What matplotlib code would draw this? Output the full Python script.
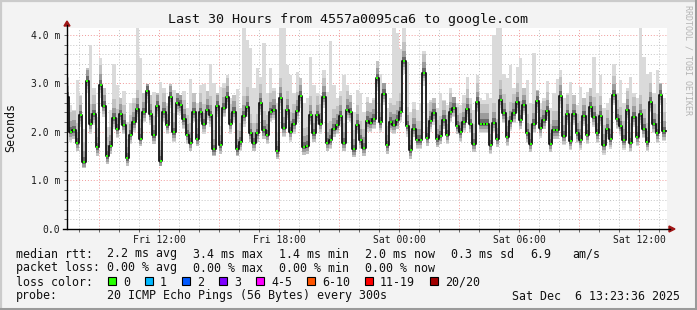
import numpy as np
import pandas as pd
import matplotlib
matplotlib.use('Agg')
import matplotlib.pyplot as plt
import matplotlib.dates as mdates
from matplotlib.ticker import MultipleLocator, FuncFormatter
from matplotlib.lines import Line2D
from matplotlib.patches import Polygon, Rectangle

W, H = 697, 310
MONO = 'DejaVu Sans Mono'

# median rtt, one value per 10 minutes (ms)
median_ms = [
    2.72, 2.00, 2.03, 1.78, 2.34, 1.39, 3.05, 2.17, 2.36, 1.68,
    2.97, 2.54, 1.50, 1.71, 2.28, 2.07, 2.36, 2.15, 1.46, 1.94,
    2.20, 2.47, 1.86, 2.40, 2.84, 2.36, 1.93, 2.54, 1.41, 2.40,
    2.14, 2.72, 1.99, 2.59, 2.55, 2.26, 1.94, 1.78, 2.40, 1.86,
    2.40, 2.17, 2.45, 2.34, 1.64, 2.54, 1.72, 2.50, 2.72, 2.17,
    2.41, 1.64, 1.79, 2.33, 2.52, 1.97, 1.78, 1.97, 2.59, 2.03,
    1.94, 2.40, 2.45, 1.60, 2.70, 2.08, 2.45, 2.00, 2.17, 2.43,
    2.74, 1.69, 1.71, 2.34, 1.97, 2.34, 2.17, 2.72, 1.78, 1.83,
    2.07, 2.14, 2.33, 1.78, 2.45, 2.40, 1.64, 2.15, 1.83, 1.67,
    2.22, 2.19, 2.26, 3.10, 2.20, 2.79, 1.72, 2.20, 2.15, 2.24,
    2.41, 3.45, 2.12, 1.62, 2.07, 1.83, 1.83, 3.21, 1.88, 2.22,
    2.38, 1.85, 1.92, 2.24, 1.94, 2.40, 2.50, 2.12, 1.99, 2.20,
    2.48, 2.17, 1.76, 2.61, 2.17, 2.17, 2.17, 1.74, 2.19, 1.86,
    2.66, 2.38, 1.90, 2.22, 2.38, 2.61, 2.24, 2.55, 1.97, 1.76,
    2.17, 2.63, 2.08, 2.24, 2.43, 1.76, 2.03, 2.03, 2.74, 1.92,
    2.36, 1.81, 2.36, 1.97, 1.83, 2.33, 1.94, 2.52, 2.31, 1.97,
    2.33, 1.74, 2.06, 1.85, 2.76, 2.26, 2.12, 1.83, 2.45, 1.78,
    2.31, 1.90, 2.36, 2.07, 1.79, 2.61, 2.17, 1.97, 2.77, 2.01,
]

# slowest ping of each step (top of the smoke)
ping_hi = [
    3.14, 2.55, 2.45, 3.07, 2.75, 2.05, 3.31, 3.78, 2.90, 2.30,
    3.53, 2.90, 2.10, 2.45, 3.39, 2.97, 2.70, 2.84, 2.20, 2.60,
    2.70, 4.15, 3.52, 2.80, 2.98, 2.75, 2.83, 2.80, 3.02, 2.90,
    2.60, 2.98, 2.86, 2.80, 2.75, 2.84, 2.50, 3.09, 2.80, 2.60,
    2.97, 2.98, 2.85, 3.39, 3.00, 2.80, 2.93, 3.00, 3.17, 2.70,
    2.75, 2.88, 2.50, 4.15, 3.90, 3.72, 2.90, 3.31, 3.14, 3.83,
    2.80, 3.31, 2.90, 2.60, 4.14, 4.14, 3.38, 3.17, 2.80, 3.24,
    3.10, 2.60, 2.70, 3.55, 2.97, 2.80, 2.75, 3.28, 2.83, 3.88,
    2.97, 2.70, 2.85, 3.17, 2.97, 2.76, 2.40, 2.86, 2.80, 2.40,
    2.72, 2.60, 2.70, 3.46, 3.20, 3.00, 2.50, 2.70, 4.14, 4.03,
    3.70, 4.14, 3.45, 2.40, 2.62, 2.45, 2.60, 3.66, 2.60, 2.66,
    2.70, 2.50, 2.80, 2.65, 2.55, 2.91, 2.72, 2.60, 2.55, 2.75,
    3.14, 2.70, 2.45, 3.17, 2.70, 2.65, 2.80, 2.70, 4.00, 4.14,
    4.14, 3.20, 3.10, 3.38, 2.90, 3.34, 3.52, 2.90, 3.07, 2.60,
    3.62, 2.86, 2.60, 2.70, 3.05, 2.50, 2.80, 3.09, 3.28, 2.70,
    2.80, 3.02, 2.75, 2.55, 2.93, 2.70, 2.83, 2.90, 3.55, 2.80,
    3.17, 2.50, 2.60, 2.70, 3.39, 2.80, 3.07, 2.60, 2.90, 3.14,
    2.80, 2.70, 4.15, 3.55, 3.20, 3.24, 2.80, 3.28, 3.00, 2.70,
]

# fastest ping of each step (bottom of the smoke)
ping_lo = [
    2.50, 1.80, 1.85, 1.60, 2.10, 1.25, 2.80, 1.95, 2.15, 1.50,
    2.70, 2.30, 1.33, 1.55, 2.05, 1.88, 2.15, 1.95, 1.30, 1.75,
    2.00, 2.25, 1.70, 2.20, 2.60, 2.15, 1.75, 2.30, 1.30, 2.20,
    1.95, 2.50, 1.80, 2.35, 2.35, 2.05, 1.75, 1.60, 2.20, 1.70,
    2.20, 1.95, 2.25, 2.10, 1.50, 2.30, 1.55, 2.30, 2.50, 1.95,
    2.20, 1.50, 1.60, 2.10, 2.30, 1.80, 1.60, 1.80, 2.35, 1.85,
    1.75, 2.20, 2.25, 1.45, 2.45, 1.90, 2.25, 1.80, 1.95, 2.20,
    2.50, 1.52, 1.55, 2.15, 1.80, 2.15, 1.95, 2.50, 1.60, 1.65,
    1.90, 1.95, 2.10, 1.60, 2.25, 2.20, 1.48, 1.95, 1.65, 1.50,
    2.00, 2.00, 2.05, 2.85, 2.00, 2.55, 1.55, 2.00, 1.95, 2.05,
    2.20, 3.20, 1.90, 1.45, 1.90, 1.65, 1.65, 2.95, 1.70, 2.00,
    2.15, 1.68, 1.75, 2.05, 1.75, 2.20, 2.30, 1.95, 1.80, 2.00,
    2.25, 1.98, 1.58, 2.40, 1.98, 1.98, 1.98, 1.55, 2.00, 1.68,
    2.45, 2.18, 1.70, 2.02, 2.18, 2.40, 2.05, 2.35, 1.78, 1.58,
    1.98, 2.42, 1.88, 2.05, 2.22, 1.58, 1.85, 1.85, 2.50, 1.72,
    2.15, 1.62, 2.15, 1.78, 1.62, 2.12, 1.75, 2.30, 2.10, 1.78,
    2.12, 1.52, 1.85, 1.65, 2.55, 2.05, 1.92, 1.62, 2.25, 1.58,
    2.10, 1.70, 2.15, 1.88, 1.60, 2.40, 1.98, 1.78, 2.55, 1.82,
]

loss_labels = ['0', '1', '2', '3', '4-5', '6-10', '11-19', '20/20']
loss_colors = ['#26ff00', '#00b8ff', '#0059ff', '#7e00ff',
               '#ff00ff', '#ff5500', '#ff0000', '#a10000']

rtt_line = ['median rtt:', '2.2 ms avg', '3.4 ms max', '1.4 ms min',
            '2.0 ms now', '0.3 ms sd', '6.9', 'am/s']
loss_line = ['packet loss:', '0.00 % avg', '0.00 % max', '0.00 % min',
             '0.00 % now']

t_start = pd.Timestamp('2025-12-05 07:23:36')
t_end = pd.Timestamp('2025-12-06 13:23:36')
edges = pd.date_range('2025-12-05 07:20', periods=len(median_ms) + 1, freq='10min')


def fx(x):
    return x / W


def fy(y):
    return 1 - y / H


def ext(a):
    return np.append(a, a[-1])


fig = plt.figure(figsize=(W / 100, H / 100), dpi=100, facecolor='#f3f3f3')
ax = fig.add_axes([fx(67), fy(229), 600 / W, (229 - 28) / H])
ax.set_facecolor('white')

x = mdates.date2num(edges.to_pydatetime())
med = np.array(median_ms)
lo = np.array(ping_lo)
hi = np.array(ping_hi)

# smoke: outer pings light, pings near the median darker
ax.fill_between(x, ext(lo), ext(hi), step='post', color='#dadada', lw=0, zorder=2)
for dl, dh, c in [(0.17, 0.40, '#c2c2c2'), (0.11, 0.22, '#9c9c9c'), (0.05, 0.10, '#6a6a6a')]:
    a = np.maximum(lo, med - dl)
    b = np.minimum(hi, med + dh)
    ax.fill_between(x, ext(a), ext(b), step='post', color=c, lw=0, zorder=3)

# median line with loss colour marks
ax.step(x, ext(med), where='post', color='#151515', lw=1.3, zorder=4)
centers = x[:-1] + (x[1] - x[0]) / 2
ax.plot(centers, med, ls='none', marker='s', ms=1.9, mew=0,
        color=loss_colors[0], zorder=5)

ax.set_xlim(mdates.date2num(t_start.to_pydatetime()), mdates.date2num(t_end.to_pydatetime()))
ax.set_ylim(0, 4.14)

ax.xaxis.set_major_locator(mdates.HourLocator(byhour=range(0, 24, 3)))
ax.xaxis.set_minor_locator(mdates.HourLocator())


def xfmt(v, pos):
    d = mdates.num2date(v)
    return d.strftime('%a %H:%M') if d.hour % 6 == 0 else ''


ax.xaxis.set_major_formatter(FuncFormatter(xfmt))
ax.yaxis.set_major_locator(MultipleLocator(1))
ax.yaxis.set_minor_locator(MultipleLocator(0.2))
ax.yaxis.set_major_formatter(FuncFormatter(lambda v, p: '0.0' if v == 0 else '%.1f m' % v))

ax.grid(which='minor', color='#c4c4c4', linestyle=(0, (1, 2)), lw=0.7)
ax.grid(which='major', color='#f09a9a', linestyle=(0, (1, 2)), lw=0.7)
ax.set_axisbelow(True)

for s in ax.spines.values():
    s.set_visible(False)
ax.tick_params(which='both', length=2, width=0.7, color='#666666', labelsize=7)
ax.tick_params(axis='x', pad=2)
ax.tick_params(axis='y', pad=3)
for lab in ax.get_xticklabels() + ax.get_yticklabels():
    lab.set_fontfamily(MONO)
    lab.set_color('#1a1a1a')

# axis lines with arrows
fig.add_artist(Line2D([fx(67), fx(67)], [fy(229), fy(25)], color='black', lw=1))
fig.add_artist(Line2D([fx(63), fx(670)], [fy(229), fy(229)], color='black', lw=1))
fig.add_artist(Polygon([(fx(64), fy(26)), (fx(70), fy(26)), (fx(67), fy(21))],
                       closed=True, color='#a01515', transform=fig.transFigure))
fig.add_artist(Polygon([(fx(669), fy(226)), (fx(669), fy(232)), (fx(675), fy(229))],
                       closed=True, color='#a01515', transform=fig.transFigure))

# frame shading
fig.add_artist(Line2D([0, 1], [fy(0.8), fy(0.8)], color='#cbcbcb', lw=1.6))
fig.add_artist(Line2D([fx(0.8), fx(0.8)], [0, 1], color='#cbcbcb', lw=1.6))
fig.add_artist(Line2D([0, 1], [fy(308.8), fy(308.8)], color='#9a9a9a', lw=2.2))
fig.add_artist(Line2D([fx(695.8), fx(695.8)], [0, 1], color='#9a9a9a', lw=2.2))

fig.text(fx(348), fy(19), 'Last 30 Hours from 4557a0095ca6 to google.com',
         ha='center', va='center', fontsize=9.6, family=MONO, color='#111111')
fig.text(fx(11), fy(128), 'Seconds', rotation=90, ha='center', va='center',
         fontsize=8.4, family=MONO, color='#111111')
fig.text(fx(688), fy(60), 'RRDTOOL / TOBI OETIKER', rotation=270, ha='center',
         va='center', fontsize=6, family=MONO, color='#b4b4b4')

# legend
rtt_x = [16, 107, 193, 279, 365, 451, 530, 572]
for xx, s in zip(rtt_x, rtt_line):
    fig.text(fx(xx), fy(254), s, ha='left', va='center', fontsize=8.4, family=MONO, color='#111111')
for xx, s in zip(rtt_x, loss_line):
    fig.text(fx(xx), fy(268), s, ha='left', va='center', fontsize=8.4, family=MONO, color='#111111')
fig.text(fx(16), fy(282), 'loss color:', ha='left', va='center', fontsize=8.4, family=MONO, color='#111111')
box_x = [108, 145, 182, 219, 256, 307, 365, 430]
for xx, lab, c in zip(box_x, loss_labels, loss_colors):
    fig.add_artist(Rectangle((fx(xx), fy(285)), 8 / W, 8 / H, facecolor=c,
                             edgecolor='black', lw=0.8, transform=fig.transFigure))
    fig.text(fx(xx + 15), fy(282), lab, ha='left', va='center', fontsize=8.4, family=MONO, color='#111111')
fig.text(fx(16), fy(296), 'probe:', ha='left', va='center', fontsize=8.4, family=MONO, color='#111111')
fig.text(fx(107), fy(296), '20 ICMP Echo Pings (56 Bytes) every 300s', ha='left', va='center',
         fontsize=8.4, family=MONO, color='#111111')
fig.text(fx(680), fy(296), 'Sat Dec  6 13:23:36 2025', ha='right', va='center',
         fontsize=8.4, family=MONO, color='#111111')

fig.savefig('out.png', dpi=100, facecolor=fig.get_facecolor())
